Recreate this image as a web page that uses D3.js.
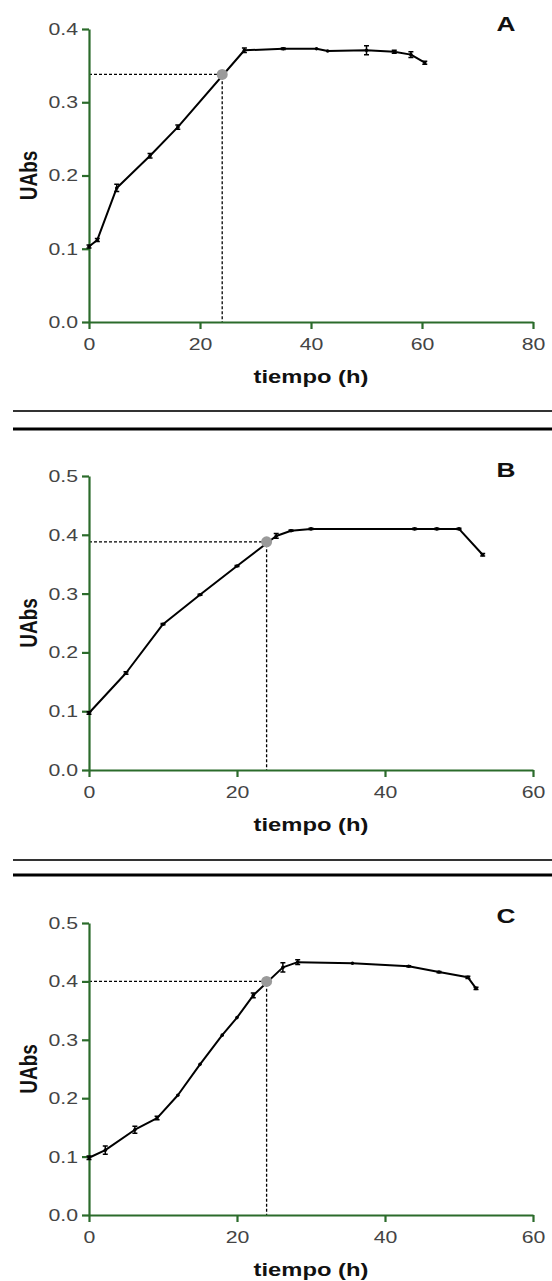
<!DOCTYPE html>
<html>
<head>
<meta charset="utf-8">
<script src="https://cdn.jsdelivr.net/npm/d3@7/dist/d3.min.js"></script>
<style>
  body { margin: 0; background: #fff; }
  svg { display: block; }
  text { font-family: "Liberation Sans", Arial, sans-serif; }
</style>
</head>
<body>
<script>
// panel A
var timeA = [0, 1.5, 5, 11, 16, 28, 35, 41, 43, 50, 55, 58, 60.5];
var absA  = [0.103, 0.112, 0.183, 0.227, 0.266, 0.371, 0.373, 0.373, 0.370, 0.371, 0.369, 0.365, 0.354];
var errA  = [0.002, 0.002, 0.005, 0.003, 0.003, 0.003, 0.001, 0, 0, 0.006, 0.002, 0.004, 0.002];
var ticksXA = [0, 20, 40, 60, 80];
var ticksYA = [0, 0.1, 0.2, 0.3, 0.4];

// panel B
var timeB = [0, 5, 10, 15, 20, 25.3, 27.3, 30, 44, 47, 50, 53.2];
var absB  = [0.097, 0.165, 0.248, 0.298, 0.347, 0.398, 0.407, 0.41, 0.41, 0.41, 0.41, 0.366];
var errB  = [0.002, 0.002, 0.001, 0.001, 0.001, 0.004, 0.001, 0.001, 0.001, 0.001, 0.001, 0.002];
var ticksXB = [0, 20, 40, 60];
var ticksYB = [0, 0.1, 0.2, 0.3, 0.4, 0.5];

// panel C
var timeC = [0, 2.2, 6.2, 9.2, 12, 15, 18, 20, 22.2, 26.2, 28.2, 35.6, 43.2, 47.3, 51.2, 52.3];
var absC  = [0.098, 0.111, 0.146, 0.166, 0.205, 0.258, 0.308, 0.338, 0.376, 0.424, 0.433, 0.431, 0.426, 0.416, 0.407, 0.388];
var errC  = [0.003, 0.007, 0.006, 0.003, 0, 0, 0, 0, 0.004, 0.008, 0.004, 0, 0.001, 0.001, 0.002, 0.002];
var ticksXC = [0, 20, 40, 60];
var ticksYC = [0, 0.1, 0.2, 0.3, 0.4, 0.5];

// time marked with the grey dot and its reading
var markTime = [24, 24, 24];
var markAbs  = [0.338, 0.388, 0.400];
var panelNames = ["A", "B", "C"];

var width = 552, height = 1281,
    green = "#2b6b2b",
    stretch = 1.25;   // the source picture is a bit wide

var svg = d3.select("body").append("svg")
  .attr("width", width)
  .attr("height", height);

// widen text horizontally to match the picture
function widen(sel) {
  sel.each(function() {
    var w = this.getComputedTextLength();
    this.setAttribute("textLength", w * stretch);
    this.setAttribute("lengthAdjust", "spacingAndGlyphs");
  });
}

var panels = [
  {t: timeA, v: absA, e: errA, xt: ticksXA, yt: ticksYA, xmax: 80, ymax: 0.4, top: 29, bottom: 322, letterY: 23},
  {t: timeB, v: absB, e: errB, xt: ticksXB, yt: ticksYB, xmax: 60, ymax: 0.5, top: 476, bottom: 770, letterY: 469},
  {t: timeC, v: absC, e: errC, xt: ticksXC, yt: ticksYC, xmax: 60, ymax: 0.5, top: 923, bottom: 1215, letterY: 915}
];

panels.forEach(function(p, i) {
  var x = d3.scaleLinear().domain([0, p.xmax]).range([89, 533]);
  var y = d3.scaleLinear().domain([0, p.ymax]).range([p.bottom, p.top]);
  var g = svg.append("g");

  // dashed guide lines to the 24 h reading
  var mx = x(markTime[i]), my = y(markAbs[i]);
  g.append("path")
    .attr("d", "M" + x(0) + "," + my + "H" + mx + "V" + y(0))
    .attr("fill", "none")
    .attr("stroke", "#000")
    .attr("stroke-width", 1.3)
    .attr("stroke-dasharray", "3,2");

  // axes
  var yAxis = g.append("g")
    .attr("transform", "translate(" + x(0) + ",0)")
    .call(d3.axisLeft(y).tickValues(p.yt).tickFormat(d3.format(".1f"))
      .tickSize(7).tickSizeOuter(0).tickPadding(4));
  var xAxis = g.append("g")
    .attr("transform", "translate(0," + y(0) + ")")
    .call(d3.axisBottom(x).tickValues(p.xt).tickFormat(d3.format("d"))
      .tickSize(7).tickSizeOuter(0).tickPadding(9));

  [yAxis, xAxis].forEach(function(ax) {
    ax.select(".domain").attr("stroke", green).attr("stroke-width", 2.2);
    ax.selectAll(".tick line").attr("stroke", green).attr("stroke-width", 2.2);
    ax.selectAll(".tick text")
      .attr("fill", "#444")
      .style("font-size", "17px")
      .style("font-family", "'Liberation Sans', Arial, sans-serif")
      .call(widen);
  });

  var pts = p.t.map(function(d, j) { return {t: d, v: p.v[j], e: p.e[j]}; });

  // data line
  g.append("path")
    .datum(pts)
    .attr("fill", "none")
    .attr("stroke", "#000")
    .attr("stroke-width", 2)
    .attr("stroke-linejoin", "round")
    .attr("d", d3.line().x(function(d) { return x(d.t); }).y(function(d) { return y(d.v); }));

  // error bars
  var eb = g.selectAll(".err").data(pts.filter(function(d) { return d.e > 0; }))
    .enter().append("g");
  eb.append("path")
    .attr("d", function(d) {
      var cx = x(d.t), y1 = y(d.v + d.e), y2 = y(d.v - d.e);
      return "M" + cx + "," + y1 + "V" + y2 +
             "M" + (cx - 2.5) + "," + y1 + "H" + (cx + 2.5) +
             "M" + (cx - 2.5) + "," + y2 + "H" + (cx + 2.5);
    })
    .attr("stroke", "#000")
    .attr("stroke-width", 1.5)
    .attr("fill", "none");

  g.selectAll(".pt").data(pts).enter().append("circle")
    .attr("cx", function(d) { return x(d.t); })
    .attr("cy", function(d) { return y(d.v); })
    .attr("r", 1.8)
    .attr("fill", "#000");

  // grey reading dot
  g.append("circle")
    .attr("cx", mx).attr("cy", my).attr("r", 5.5)
    .attr("fill", "#9a9a9a");

  // axis titles
  g.append("text")
    .attr("x", (x(0) + x(p.xmax)) / 2)
    .attr("y", p.bottom + 61)
    .attr("text-anchor", "middle")
    .style("font-size", "19px")
    .style("font-weight", "bold")
    .attr("fill", "#111")
    .text("tiempo (h)")
    .call(widen);

  g.append("text")
    .attr("transform", "translate(28," + (p.top + p.bottom) / 2 + ") scale(" + stretch + ",1) rotate(-90)")
    .attr("text-anchor", "middle")
    .attr("dy", "0.36em")
    .style("font-size", "19px")
    .style("font-weight", "bold")
    .attr("fill", "#111")
    .text("UAbs");

  g.append("text")
    .attr("x", 506)
    .attr("y", p.letterY)
    .attr("dy", "0.36em")
    .attr("text-anchor", "middle")
    .style("font-size", "21px")
    .style("font-weight", "bold")
    .attr("fill", "#111")
    .text(panelNames[i])
    .call(widen);
});

// separator rules between panels
var rules = [
  {y: 411, w: 2, c: "#333"},
  {y: 429, w: 2.8, c: "#000"},
  {y: 860, w: 2, c: "#333"},
  {y: 875, w: 2.8, c: "#000"}
];
svg.selectAll(".rule").data(rules).enter().append("line")
  .attr("x1", 13).attr("x2", width)
  .attr("y1", function(d) { return d.y; })
  .attr("y2", function(d) { return d.y; })
  .attr("stroke", function(d) { return d.c; })
  .attr("stroke-width", function(d) { return d.w; });
</script>
</body>
</html>
